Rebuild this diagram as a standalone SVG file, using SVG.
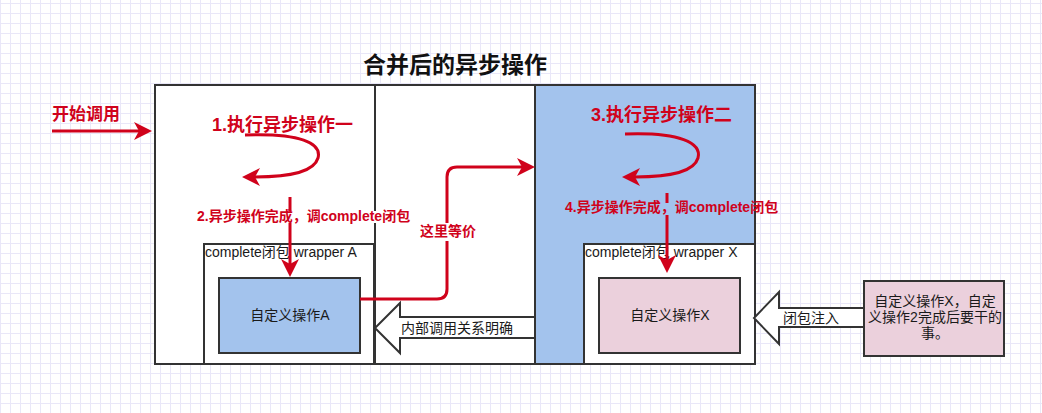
<svg xmlns="http://www.w3.org/2000/svg" width="1042" height="413" viewBox="0 0 1042 413">
<style>
.box{stroke:#333333;stroke-width:2}
.red{fill:#D0021B;font-family:"Liberation Sans","Noto Sans CJK SC",sans-serif;font-weight:bold}
.txt{fill:#1a1a1a;font-family:"Liberation Sans","Noto Sans CJK SC",sans-serif;font-size:14px}
.conn{fill:none;stroke:#D0021B;stroke-width:3}
.hollow{fill:#ffffff;stroke:#333333;stroke-width:2}
</style>
<defs>
<pattern id="grid" patternUnits="userSpaceOnUse" x="0" y="3" width="10" height="10">
<path d="M0,0.5 H10 M0.5,0 V10" stroke="#E9E7F8" stroke-width="1" fill="none"/>
</pattern>
<marker id="ah" markerUnits="userSpaceOnUse" markerWidth="20" markerHeight="20" refX="5" refY="9" orient="auto">
<path d="M0,0 L18,9 L0,18 L5,9 Z" fill="#D0021B"/>
</marker>
</defs>
<rect width="1042" height="413" fill="#ffffff"/>
<rect width="1042" height="413" fill="url(#grid)"/>

<text id="title" class="red" x="363" y="73" font-size="23" style="fill:#111111">合并后的异步操作</text>

<g id="middle-box"><rect class="box" x="375" y="85" width="160" height="279" fill="#ffffff"/></g>
<g id="arrow-inner"><polygon class="hollow" points="535,317 400,317 400,303 375,328 400,353 400,338 535,338"/>
<text class="txt" x="401" y="333">内部调用关系明确</text></g>

<g id="op1-box"><rect class="box" x="155" y="85" width="220" height="279" fill="#ffffff"/></g>
<g id="wrapperA"><rect class="box" x="204" y="244" width="170" height="120" fill="#ffffff"/>
<text class="txt" x="205" y="257">complete闭包 wrapper A</text></g>
<g id="customA"><rect class="box" x="219" y="278" width="141" height="75" fill="#A3C3ED"/>
<text class="txt" x="290" y="320" text-anchor="middle">自定义操作A</text></g>

<g id="op2-box"><rect class="box" x="535" y="85" width="220" height="279" fill="#A3C3ED"/></g>
<g id="wrapperX"><rect class="box" x="584" y="244" width="171" height="120" fill="#ffffff"/>
<text class="txt" x="585" y="257">complete闭包 wrapper X</text></g>
<g id="customX"><rect class="box" x="599" y="278" width="141" height="75" fill="#EBD0DC"/>
<text class="txt" x="670" y="320" text-anchor="middle">自定义操作X</text></g>

<g id="arrow-inject"><polygon class="hollow" points="864,308 779,308 779,292 754,318 779,344 779,327 864,327"/>
<text class="txt" x="783" y="323">闭包注入</text></g>
<g id="note"><rect class="box" x="864" y="281" width="140" height="75" fill="#EBD0DC"/>
<text class="txt" text-anchor="middle"><tspan x="935" y="306">自定义操作X，自定</tspan><tspan x="935" y="322">义操作2完成后要干的</tspan><tspan x="935" y="338">事。</tspan></text></g>

<g id="connectors">
<path class="conn" d="M52,131 L139,131" marker-end="url(#ah)"/>
<text class="red" x="52" y="120" font-size="17">开始调用</text>

<text class="red" x="212" y="131" font-size="18">1.执行异步操作一</text>
<path class="conn" d="M245,135 C300,133 322,143 318,158 C314,172 290,177 255,177" marker-end="url(#ah)"/>

<path class="conn" d="M290,197 L290,264" marker-end="url(#ah)"/>
<rect x="196" y="211" width="212" height="12" fill="#ffffff"/>
<text class="red" x="197" y="221" font-size="14">2.异步操作完成，调complete闭包</text>

<text class="red" x="591" y="121" font-size="18">3.执行异步操作二</text>
<path class="conn" d="M625,134 C680,132 702,143 698,158 C694,172 670,177 635,177" marker-end="url(#ah)"/>

<path class="conn" d="M667,193 L667,260" marker-end="url(#ah)"/>
<rect x="564" y="203" width="188" height="12" fill="#A3C3ED"/>
<text class="red" x="565" y="212" font-size="14">4.异步操作完成，调complete闭包</text>

<path class="conn" d="M360,299 L437,299 Q447,299 447,289 L447,177 Q447,167 457,167 L522,167" marker-end="url(#ah)"/>
<rect x="419" y="223" width="58" height="18" fill="#ffffff"/>
<text class="red" x="448" y="236" font-size="14" text-anchor="middle">这里等价</text>
</g>
</svg>
